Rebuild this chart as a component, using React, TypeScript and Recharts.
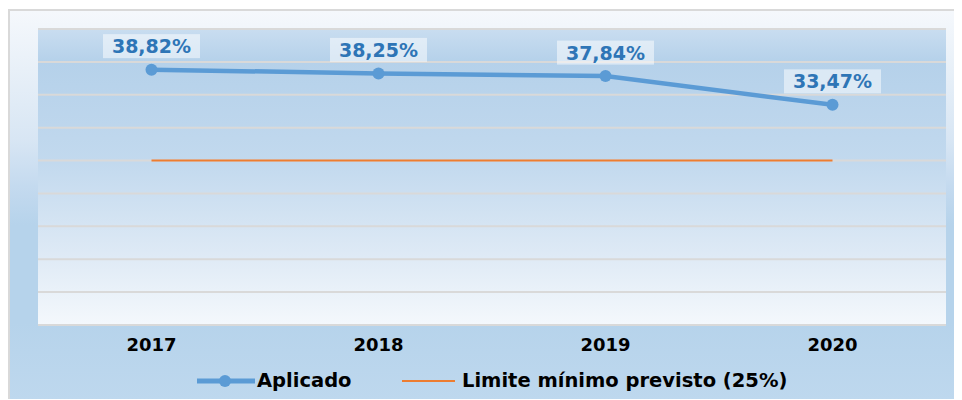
import React from 'react';
import { LineChart, Line, XAxis, YAxis, CartesianGrid, Legend, LabelList } from 'recharts';

const years = ['2017', '2018', '2019', '2020'];
const aplicado = [38.82, 38.25, 37.84, 33.47];
const limite = [25, 25, 25, 25];
const yTicks = [0, 5, 10, 15, 20, 25, 30, 35, 40, 45];

const data = years.map((y, i) => ({ year: y, aplicado: aplicado[i], limite: limite[i] }));

const FONT = '"DejaVu Sans", Verdana, sans-serif';

const fmt = (v: number) => v.toFixed(2).replace('.', ',') + '%';

const ValueLabel = (props: any) => {
  const { x, y, value } = props;
  if (x == null || y == null) return null;
  return (
    <g>
      <rect x={x - 48.5} y={y - 35.5} width={97} height={24} fill="#ffffff" fillOpacity={0.5} />
      <text
        x={x}
        y={y - 23.5}
        textAnchor="middle"
        dominantBaseline="central"
        fill="#2e75b6"
        fontFamily={FONT}
        fontWeight="bold"
        fontSize={19}
      >
        {fmt(value)}
      </text>
    </g>
  );
};

const LegendContent = () => (
  <div style={{ position: 'relative', width: 952, height: 30, fontFamily: FONT, fontWeight: 'bold', fontSize: 19.5, color: '#000' }}>
    <svg style={{ position: 'absolute', left: 187, top: 8 }} width={58} height={14}>
      <line x1={0} y1={7} x2={58} y2={7} stroke="#5b9bd5" strokeWidth={5} strokeLinecap="round" />
      <circle cx={28} cy={7} r={6} fill="#5b9bd5" />
    </svg>
    <span style={{ position: 'absolute', left: 247, top: 4, lineHeight: '22px', whiteSpace: 'nowrap' }}>Aplicado</span>
    <svg style={{ position: 'absolute', left: 392, top: 8 }} width={53} height={14}>
      <line x1={0} y1={7} x2={53} y2={7} stroke="#ed7d31" strokeWidth={2} />
    </svg>
    <span style={{ position: 'absolute', left: 452, top: 4, lineHeight: '22px', whiteSpace: 'nowrap' }}>Limite mínimo previsto (25%)</span>
  </div>
);

export default function App() {
  return (
    <div
      style={{
        position: 'relative',
        top: 1,
        width: 954,
        height: 391,
        boxSizing: 'border-box',
        borderTop: '2px solid #d9d9d9',
        borderLeft: '2px solid #d9d9d9',
        background:
          'linear-gradient(to bottom, #f5f8fc 0%, #e8f0f8 15%, #d8e6f4 33%, #c4daef 45%, #b6d3eb 55%, #b6d3eb 80%, #bed8ee 100%)',
        overflow: 'hidden',
      }}
    >
      <LineChart width={952} height={389} data={data} margin={{ top: 18, right: 16, left: 28, bottom: 4 }}>
        <defs>
          <linearGradient id="plotBg" x1="0" y1="0" x2="0" y2="1">
            <stop offset="0%" stopColor="#c9ddf0" />
            <stop offset="11%" stopColor="#b5d1ea" />
            <stop offset="45%" stopColor="#c2d9ee" />
            <stop offset="75%" stopColor="#dde9f5" />
            <stop offset="100%" stopColor="#f4f8fc" />
          </linearGradient>
        </defs>
        <CartesianGrid vertical={false} stroke="#d9d9d9" strokeWidth={2} fill="url(#plotBg)" fillOpacity={1} />
        <XAxis
          dataKey="year"
          axisLine={false}
          tickLine={false}
          tickMargin={7}
          height={41}
          padding={{ left: 113.5, right: 113.5 }}
          tick={{ fontFamily: FONT, fontWeight: 'bold', fontSize: 18, fill: '#000' }}
        />
        <YAxis hide domain={[0, 45]} ticks={yTicks} />
        <Legend verticalAlign="bottom" wrapperStyle={{ left: 0, width: 952 }} content={() => <LegendContent />} />
        <Line
          dataKey="limite"
          name="Limite mínimo previsto (25%)"
          stroke="#ed7d31"
          strokeWidth={2}
          dot={false}
          activeDot={false}
          isAnimationActive={false}
        />
        <Line
          dataKey="aplicado"
          name="Aplicado"
          stroke="#5b9bd5"
          strokeWidth={4.5}
          dot={{ r: 6, fill: '#5b9bd5', stroke: '#5b9bd5', strokeWidth: 0 }}
          activeDot={false}
          isAnimationActive={false}
        >
          <LabelList dataKey="aplicado" content={<ValueLabel />} />
        </Line>
      </LineChart>
    </div>
  );
}
